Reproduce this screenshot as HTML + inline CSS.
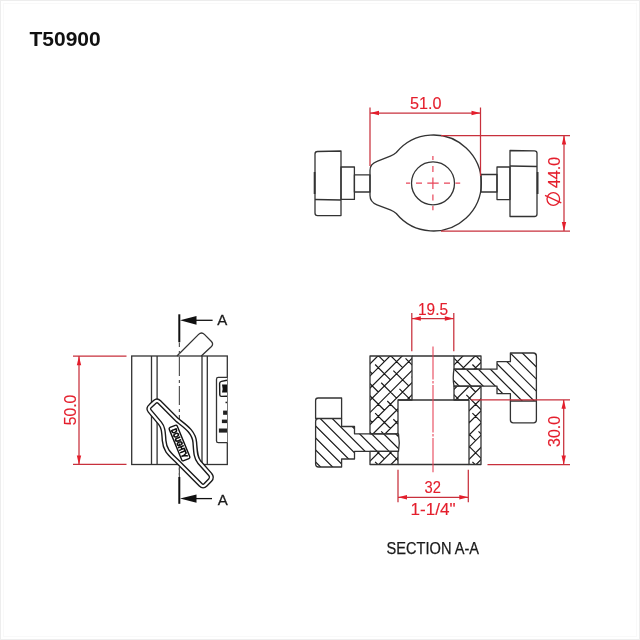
<!DOCTYPE html>
<html><head><meta charset="utf-8">
<style>
html,body{margin:0;padding:0;background:#fff;width:640px;height:640px;overflow:hidden}
svg{position:absolute;left:0;top:0;will-change:transform}
text{font-family:"Liberation Sans",sans-serif}
</style></head><body>
<svg width="640" height="640" viewBox="0 0 640 640">


<!-- frame -->
<rect x="0.5" y="0.5" width="639" height="639" fill="none" stroke="#ededed" stroke-width="1"/>
<rect x="3.5" y="3.5" width="633" height="633" fill="none" stroke="#f9f9f9" stroke-width="1"/>

<!-- title -->
<text x="29.5" y="46" font-size="21" font-weight="bold" fill="#111">T50900</text>

<!-- ============ TOP VIEW ============ -->
<g fill="none" stroke="#333" stroke-width="1.3" stroke-linejoin="round">
  <!-- body -->
  <path d="M396.3 152.5 A48 48 0 1 1 396.3 213.5 Q393.8 211.3 390.3 209.9 L377 204.8 Q370 202 370 195.5 L370 170.5 Q370 164 377 161.4 L390.3 156.1 Q393.8 154.7 396.3 152.5 Z"/>
  <circle cx="433" cy="183.3" r="21.5"/>
  <!-- left knob -->
  <path d="M341 151 L317.5 151.5 Q315 151.5 315 154 L315 213 Q315 215.6 317.5 215.6 L341 215.6 Z"/>
  <path d="M315 199.5 L341 200"/>
  <path d="M314.6 172 V194" stroke-width="1.8"/>
  <rect x="341" y="167" width="13.4" height="32.4"/>
  <rect x="354.4" y="174.8" width="15.6" height="17.2"/>
  <!-- right knob -->
  <path d="M510 150.5 L534.5 150.8 Q537 150.8 537 153.3 L537 214 Q537 216.5 534.5 216.5 L510 216.5 Z"/>
  <path d="M510 166 L537 166.5"/>
  <path d="M537.6 172 V194" stroke-width="1.8"/>
  <rect x="497" y="167" width="13" height="32.6"/>
  <rect x="481" y="174.5" width="16" height="17.5"/>
</g>
<!-- top view center marks -->
<g stroke="#e8465a" stroke-width="1.2">
  <path d="M406 183.2H410M416 183.2H422M427.3 183.2H438.7M444 183.2H450M455.5 183.2H460.2"/>
  <path d="M432.9 156V160M432.9 166V172M432.9 177.5V189M432.9 194.5V200.5M432.9 206V210.2"/>
</g>
<!-- dims top -->
<g stroke="#c8303c" stroke-width="1.25" fill="none">
  <path d="M370 107.5V166"/>
  <path d="M480.5 107.5V176"/>
  <path d="M370 113H480.5"/>
  <path d="M441 135.5H570"/>
  <path d="M441 231H570"/>
  <path d="M564 135.5V231"/>
</g>
<g fill="#e41e2c">
  <path d="M370 113L379 110.8L379 115.2Z"/>
  <path d="M480.5 113L471.5 110.8L471.5 115.2Z"/>
  <path d="M564 135.5L561.8 144.5L566.2 144.5Z"/>
  <path d="M564 231L561.8 222L566.2 222Z"/>
</g>
<text x="425.75" y="108.8" font-size="16.3" fill="#e41e2c" stroke="#e41e2c" stroke-width="0.15" text-anchor="middle" textLength="31.5" lengthAdjust="spacingAndGlyphs">51.0</text>
<g transform="translate(559.5 172.5) rotate(-90)">
  <text x="0" y="0" font-size="16" fill="#e41e2c" stroke="#e41e2c" stroke-width="0.15" text-anchor="middle">44.0</text>
</g>
<g stroke="#e41e2c" stroke-width="1.3" fill="none">
  <circle cx="553.3" cy="199" r="6.3"/>
  <path d="M545 195.3L561.3 202.8"/>
</g>


<!-- ============ SIDE VIEW ============ -->
<g fill="none" stroke="#333" stroke-width="1.3">
  <rect x="131.7" y="356" width="95.6" height="108.5"/>
  <path d="M151.5 356V464.5M157.1 356V464.5M202 356V464.5M207.3 356V464.5"/>
  <!-- top lever -->
  <path d="M177 356 L198.6 334.4 Q201.5 331.5 204.4 334.4 L211.2 341.2 Q214 344 211.2 346.8 L201.3 356"/>
  <!-- window -->
  <path d="M227.3 377.4 H218.3 Q216.5 377.4 216.5 379.2 V441 Q216.5 442.7 218.3 442.7 H227.3" fill="#fff"/>
  <path d="M227 380.3 L221.5 381.4 Q219.6 381.8 219.6 383.5 L219.8 395 Q219.9 396.5 221.6 396.4 L227 396.2" stroke-width="1.4" stroke="#1a1a1a"/>
</g>
<g fill="#222">
  <path d="M222 384.5H227V392.5H222Q223.2 388.5 222 384.5Z" fill="#111"/>
  <rect x="225.5" y="401.7" width="1.5" height="1.5"/>
  <rect x="223.1" y="410.6" width="3.9" height="4.2"/>
  <rect x="221.9" y="419.6" width="5.1" height="3.5"/>
  <rect x="218.9" y="428.5" width="8.1" height="4.1"/>
</g>
<!-- centerline side -->
<path d="M179.4 342.5V475" stroke="#555" stroke-width="1.2" stroke-dasharray="19 4 3 3" stroke-dashoffset="14.5" fill="none"/>
<!-- lower lever (double outline) -->
<g fill="none" stroke-linejoin="round">
  <path id="lev" d="M150.5 405.9 L154.8 401.9 Q157.1 399.8 159.3 402 L177.5 420.2 C185.5 426.5 194 432 194.8 442.5 C195.5 452 195.5 457.5 199.2 462 L210.3 474.6 Q212.6 477.4 210.2 480 L205.6 484.8 Q203.1 487.4 200.6 484.8 L178.2 462.2 C170.5 454.5 165 451.5 164.1 440.5 C163.5 430.5 163 427 160 423.3 L149.7 411 Q147.5 408.3 150.5 405.9 Z" stroke="#1a1a1a" stroke-width="5.0" fill="#fff"/>
  <path d="M150.5 405.9 L154.8 401.9 Q157.1 399.8 159.3 402 L177.5 420.2 C185.5 426.5 194 432 194.8 442.5 C195.5 452 195.5 457.5 199.2 462 L210.3 474.6 Q212.6 477.4 210.2 480 L205.6 484.8 Q203.1 487.4 200.6 484.8 L178.2 462.2 C170.5 454.5 165 451.5 164.1 440.5 C163.5 430.5 163 427 160 423.3 L149.7 411 Q147.5 408.3 150.5 405.9 Z" stroke="#fff" stroke-width="2.2"/>
</g>
<g transform="translate(179.5 443) rotate(67.7)">
  <rect x="-18" y="-4.3" width="36" height="8.6" rx="1.5" fill="#fff" stroke="#111" stroke-width="1.4"/>
  <text x="0" y="2.9" font-size="8" font-weight="bold" fill="#000" stroke="#000" stroke-width="0.7" text-anchor="middle" textLength="30.5" lengthAdjust="spacingAndGlyphs">DOUGHTY</text>
</g>
<!-- section markers -->
<g stroke="#111" fill="none">
  <path d="M179.3 314.3V342.2" stroke-width="2"/>
  <path d="M196 320.3H212.6" stroke-width="1.3"/>
  <path d="M179.3 477V503.8" stroke-width="2"/>
  <path d="M196 498.6H212" stroke-width="1.3"/>
</g>
<g fill="#111">
  <path d="M180 320.3L196.5 316L196.5 324.7Z"/>
  <path d="M180 498.6L196.5 494.4L196.5 502.8Z"/>
</g>
<text x="217.3" y="325.3" font-size="15" fill="#1a1a1a" stroke="#1a1a1a" stroke-width="0.3">A</text>
<text x="217.8" y="504.9" font-size="15" fill="#1a1a1a" stroke="#1a1a1a" stroke-width="0.3">A</text>
<path d="M179.4 468V477" stroke="#555" stroke-width="1.2"/>
<!-- 50.0 dim -->
<g stroke="#c8303c" stroke-width="1.25" fill="none">
  <path d="M73 356.2H126.5M73 464.4H126.5M79 356.2V464.4"/>
</g>
<g fill="#e41e2c">
  <path d="M79 356.2L76.8 365.2L81.2 365.2Z"/>
  <path d="M79 464.4L76.8 455.4L81.2 455.4Z"/>
</g>
<g transform="translate(75.5 409.95) rotate(-90)">
  <text x="0" y="0" font-size="16.5" fill="#e41e2c" stroke="#e41e2c" stroke-width="0.15" text-anchor="middle" textLength="30.5" lengthAdjust="spacingAndGlyphs">50.0</text>
</g>

<!-- ============ SECTION VIEW ============ -->
<clipPath id="cxh"><path d="M370 356H412V400H398V433.8H370Z M370 451.3H398V464.5H370Z M454 356H481V369.2H454Z M454 386.2H481V464.5H469V400H454Z"/></clipPath>
<clipPath id="csh1"><path d="M315.6 418.5H341.6V426.5H354.5V433.8H398.5Q400 442.5 398.5 451.3H354.5V459H341.6V467H318.6Q315.6 467 315.6 464V421.5Q315.6 418.5 318.6 418.5Z"/></clipPath>
<clipPath id="csh2"><path d="M454 369.2H497V361.7H510.4V353H533.4Q536.4 353 536.4 356V401H510.4V393.7H497V386.2H454Q452.5 377.7 454 369.2Z"/></clipPath>
<g fill="none" stroke="#1a1a1a" stroke-width="1.2">
<path clip-path="url(#cxh)" d="M300.45 409.06L424.19 285.32M306.53 415.14L430.27 291.40M312.61 421.22L436.36 297.48M318.69 427.30L442.44 303.56M324.77 433.39L448.52 309.64M330.86 439.47L454.60 315.72M336.94 445.55L460.68 321.80M343.02 451.63L466.76 327.89M349.10 457.71L472.84 333.97M355.18 463.79L478.92 340.05M361.26 469.87L485.00 346.13M367.34 475.95L491.09 352.21M373.42 482.03L497.17 358.29M379.50 488.12L503.25 364.37M385.59 494.20L509.33 370.45M391.67 500.28L515.41 376.53M397.75 506.36L521.49 382.62M403.83 512.44L527.57 388.70M409.91 518.52L533.65 394.78M415.99 524.60L539.73 400.86M422.07 530.68L545.82 406.94M428.15 536.76L551.90 413.02M434.23 542.85L557.98 419.10M253.50 388.84L268.84 404.18M271.74 394.92L287.09 410.26M277.82 413.16L293.17 428.51M296.07 419.24L311.41 434.59M302.15 437.49L317.49 452.83M320.39 443.57L335.73 458.91M326.47 461.81L341.82 477.16M344.71 467.89L360.06 483.24M350.80 486.14L366.14 501.48M369.04 492.22L384.38 507.56M375.12 510.46L390.46 525.80M393.36 516.54L408.71 531.89M399.44 534.78L414.79 550.13M417.69 540.87L433.03 556.21M423.77 559.11L439.11 574.45M442.01 565.19L457.36 580.53M448.09 583.43L463.44 598.78M466.34 589.51L481.68 604.86M265.66 376.68L281.00 392.02M283.90 382.76L299.25 398.10M289.98 401.00L305.33 416.34M308.23 407.08L323.57 422.43M314.31 425.32L329.65 440.67M332.55 431.41L347.90 446.75M338.63 449.65L353.98 464.99M356.88 455.73L372.22 471.07M362.96 473.97L378.30 489.32M381.20 480.05L396.55 495.40M387.28 498.30L402.63 513.64M405.53 504.38L420.87 519.72M411.61 522.62L426.95 537.97M429.85 528.70L445.19 544.05M435.93 546.95L451.28 562.29M454.17 553.03L469.52 568.37M460.26 571.27L475.60 586.62M478.50 577.35L493.84 592.70M277.82 364.51L293.17 379.86M296.07 370.59L311.41 385.94M302.15 388.84L317.49 404.18M320.39 394.92L335.73 410.26M326.47 413.16L341.82 428.51M344.71 419.24L360.06 434.59M350.80 437.49L366.14 452.83M369.04 443.57L384.38 458.91M375.12 461.81L390.46 477.16M393.36 467.89L408.71 483.24M399.44 486.14L414.79 501.48M417.69 492.22L433.03 507.56M423.77 510.46L439.11 525.80M442.01 516.54L457.36 531.89M448.09 534.78L463.44 550.13M466.34 540.87L481.68 556.21M472.42 559.11L487.76 574.45M490.66 565.19L506.01 580.53M289.98 352.35L305.33 367.70M308.23 358.43L323.57 373.78M314.31 376.68L329.65 392.02M332.55 382.76L347.90 398.10M338.63 401.00L353.98 416.34M356.88 407.08L372.22 422.43M362.96 425.32L378.30 440.67M381.20 431.41L396.55 446.75M387.28 449.65L402.63 464.99M405.53 455.73L420.87 471.07M411.61 473.97L426.95 489.32M429.85 480.05L445.19 495.40M435.93 498.30L451.28 513.64M454.17 504.38L469.52 519.72M460.26 522.62L475.60 537.97M478.50 528.70L493.84 544.05M484.58 546.95L499.92 562.29M502.82 553.03L518.17 568.37M302.15 340.19L317.49 355.53M320.39 346.27L335.73 361.61M326.47 364.51L341.82 379.86M344.71 370.59L360.06 385.94M350.80 388.84L366.14 404.18M369.04 394.92L384.38 410.26M375.12 413.16L390.46 428.51M393.36 419.24L408.71 434.59M399.44 437.49L414.79 452.83M417.69 443.57L433.03 458.91M423.77 461.81L439.11 477.16M442.01 467.89L457.36 483.24M448.09 486.14L463.44 501.48M466.34 492.22L481.68 507.56M472.42 510.46L487.76 525.80M490.66 516.54L506.01 531.89M496.74 534.78L512.09 550.13M514.99 540.87L530.33 556.21M314.31 328.03L329.65 343.37M332.55 334.11L347.90 349.45M338.63 352.35L353.98 367.70M356.88 358.43L372.22 373.78M362.96 376.68L378.30 392.02M381.20 382.76L396.55 398.10M387.28 401.00L402.63 416.34M405.53 407.08L420.87 422.43M411.61 425.32L426.95 440.67M429.85 431.41L445.19 446.75M435.93 449.65L451.28 464.99M454.17 455.73L469.52 471.07M460.26 473.97L475.60 489.32M478.50 480.05L493.84 495.40M484.58 498.30L499.92 513.64M502.82 504.38L518.17 519.72M508.90 522.62L524.25 537.97M527.15 528.70L542.49 544.05M326.47 315.86L341.82 331.21M344.71 321.95L360.06 337.29M350.80 340.19L366.14 355.53M369.04 346.27L384.38 361.61M375.12 364.51L390.46 379.86M393.36 370.59L408.71 385.94M399.44 388.84L414.79 404.18M417.69 394.92L433.03 410.26M423.77 413.16L439.11 428.51M442.01 419.24L457.36 434.59M448.09 437.49L463.44 452.83M466.34 443.57L481.68 458.91M472.42 461.81L487.76 477.16M490.66 467.89L506.01 483.24M496.74 486.14L512.09 501.48M514.99 492.22L530.33 507.56M521.07 510.46L536.41 525.80M539.31 516.54L554.65 531.89M338.63 303.70L353.98 319.05M356.88 309.78L372.22 325.13M362.96 328.03L378.30 343.37M381.20 334.11L396.55 349.45M387.28 352.35L402.63 367.70M405.53 358.43L420.87 373.78M411.61 376.68L426.95 392.02M429.85 382.76L445.19 398.10M435.93 401.00L451.28 416.34M454.17 407.08L469.52 422.43M460.26 425.32L475.60 440.67M478.50 431.41L493.84 446.75M484.58 449.65L499.92 464.99M502.82 455.73L518.17 471.07M508.90 473.97L524.25 489.32M527.15 480.05L542.49 495.40M533.23 498.30L548.57 513.64M551.47 504.38L566.82 519.72M350.80 291.54L366.14 306.88M369.04 297.62L384.38 312.97M375.12 315.86L390.46 331.21M393.36 321.95L408.71 337.29M399.44 340.19L414.79 355.53M417.69 346.27L433.03 361.61M423.77 364.51L439.11 379.86M442.01 370.59L457.36 385.94M448.09 388.84L463.44 404.18M466.34 394.92L481.68 410.26M472.42 413.16L487.76 428.51M490.66 419.24L506.01 434.59M496.74 437.49L512.09 452.83M514.99 443.57L530.33 458.91M521.07 461.81L536.41 477.16M539.31 467.89L554.65 483.24M545.39 486.14L560.74 501.48M563.63 492.22L578.98 507.56M362.96 279.38L378.30 294.72M381.20 285.46L396.55 300.80M387.28 303.70L402.63 319.05M405.53 309.78L420.87 325.13M411.61 328.03L426.95 343.37M429.85 334.11L445.19 349.45M435.93 352.35L451.28 367.70M454.17 358.43L469.52 373.78M460.26 376.68L475.60 392.02M478.50 382.76L493.84 398.10M484.58 401.00L499.92 416.34M502.82 407.08L518.17 422.43M508.90 425.32L524.25 440.67M527.15 431.41L542.49 446.75M533.23 449.65L548.57 464.99M551.47 455.73L566.82 471.07M557.55 473.97L572.90 489.32M575.80 480.05L591.14 495.40M375.12 267.22L390.46 282.56M393.36 273.30L408.71 288.64M399.44 291.54L414.79 306.88M417.69 297.62L433.03 312.97M423.77 315.86L439.11 331.21M442.01 321.95L457.36 337.29M448.09 340.19L463.44 355.53M466.34 346.27L481.68 361.61M472.42 364.51L487.76 379.86M490.66 370.59L506.01 385.94M496.74 388.84L512.09 404.18M514.99 394.92L530.33 410.26M521.07 413.16L536.41 428.51M539.31 419.24L554.65 434.59M545.39 437.49L560.74 452.83M563.63 443.57L578.98 458.91M569.72 461.81L585.06 477.16M587.96 467.89L603.30 483.24M387.28 255.05L402.63 270.40M405.53 261.13L420.87 276.48M411.61 279.38L426.95 294.72M429.85 285.46L445.19 300.80M435.93 303.70L451.28 319.05M454.17 309.78L469.52 325.13M460.26 328.03L475.60 343.37M478.50 334.11L493.84 349.45M484.58 352.35L499.92 367.70M502.82 358.43L518.17 373.78M508.90 376.68L524.25 392.02M527.15 382.76L542.49 398.10M533.23 401.00L548.57 416.34M551.47 407.08L566.82 422.43M557.55 425.32L572.90 440.67M575.80 431.41L591.14 446.75M581.88 449.65L597.22 464.99M600.12 455.73L615.47 471.07M399.44 242.89L414.79 258.24M417.69 248.97L433.03 264.32M423.77 267.22L439.11 282.56M442.01 273.30L457.36 288.64M448.09 291.54L463.44 306.88M466.34 297.62L481.68 312.97M472.42 315.86L487.76 331.21M490.66 321.95L506.01 337.29M496.74 340.19L512.09 355.53M514.99 346.27L530.33 361.61M521.07 364.51L536.41 379.86M539.31 370.59L554.65 385.94M545.39 388.84L560.74 404.18M563.63 394.92L578.98 410.26M569.72 413.16L585.06 428.51M587.96 419.24L603.30 434.59M594.04 437.49L609.38 452.83M612.28 443.57L627.63 458.91M411.61 230.73L426.95 246.07M429.85 236.81L445.19 252.15M435.93 255.05L451.28 270.40M454.17 261.13L469.52 276.48M460.26 279.38L475.60 294.72M478.50 285.46L493.84 300.80M484.58 303.70L499.92 319.05M502.82 309.78L518.17 325.13M508.90 328.03L524.25 343.37M527.15 334.11L542.49 349.45M533.23 352.35L548.57 367.70M551.47 358.43L566.82 373.78M557.55 376.68L572.90 392.02M575.80 382.76L591.14 398.10M581.88 401.00L597.22 416.34M600.12 407.08L615.47 422.43M606.20 425.32L621.55 440.67M624.45 431.41L639.79 446.75"/>
<path clip-path="url(#csh1)" d="M267.75 450.18L349.82 532.25M273.76 444.17L355.83 526.24M279.77 438.16L361.84 520.23M285.78 432.15L367.85 514.22M291.79 426.14L373.86 508.21M297.80 420.13L379.87 502.20M303.81 414.12L385.88 496.19M309.82 408.11L391.89 490.18M315.83 402.10L397.90 484.17M321.84 396.09L403.91 478.16M327.85 390.08L409.92 472.15M333.86 384.07L415.93 466.14M339.87 378.06L421.94 460.13M345.88 372.05L427.95 454.12M351.89 366.04L433.96 448.11M357.90 360.03L439.97 442.10M363.91 354.01L445.99 436.09"/>
<path clip-path="url(#csh2)" d="M408.98 383.95L488.55 463.52M414.99 377.94L494.56 457.51M421.00 371.93L500.57 451.50M427.01 365.92L506.58 445.49M433.02 359.91L512.59 439.48M439.03 353.90L518.60 433.47M445.04 347.89L524.61 427.46M451.05 341.88L530.62 421.45M457.06 335.87L536.63 415.44M463.07 329.86L542.64 409.43M469.08 323.84L548.66 403.42M475.09 317.83L554.67 397.41M481.11 311.82L560.68 391.39M487.12 305.81L566.69 385.38M493.13 299.80L572.70 379.37M499.14 293.79L578.71 373.36"/>
</g>
<g fill="none" stroke="#333" stroke-width="1.3" stroke-linejoin="round">
  <!-- body outline -->
  <path d="M370 356H412V400H398V433.8H370Z"/>
  <path d="M370 451.3H398V464.5H370Z"/>
  <path d="M454 356H481V369.2H454Z"/>
  <path d="M454 386.2H481V464.5H469V400H454Z"/>
  <path d="M412 356H454M398 400H469M398 464.5H469"/>
  <!-- left knob -->
  <path d="M315.6 418.5V400.5Q315.6 398 318.1 398H341.6V418.5"/>
  <path d="M315.6 418.5H341.6V426.5H354.5V433.8H398.5Q400 442.5 398.5 451.3H354.5V459H341.6V467H318.6Q315.6 467 315.6 464V421.5Q315.6 418.5 318.6 418.5Z"/>
  <!-- right knob -->
  <path d="M510.4 401V420Q510.4 422.8 513.2 422.8H533.6Q536.4 422.8 536.4 420V401"/>
  <path d="M454 369.2H497V361.7H510.4V353H533.4Q536.4 353 536.4 356V401H510.4V393.7H497V386.2H454Q452.5 377.7 454 369.2Z"/>
</g>
<!-- section centerline -->
<path d="M433 346.6V472.2" stroke="#e8465a" stroke-width="1.1" stroke-dasharray="47.3 1.6 2.4 1.6" stroke-dashoffset="14.4" fill="none"/>
<!-- dims section -->
<g stroke="#c8303c" stroke-width="1.25" fill="none">
  <path d="M411.8 313V351.3M453.8 313V351.3M411.8 318.5H453.8"/>
  <path d="M398 469.8V502.2M468.3 469.8V502.2M398 497.3H468.3"/>
  <path d="M471 399.8H570M487.5 464.5H570M563.7 399.8V464.5"/>
</g>
<g fill="#e41e2c">
  <path d="M411.8 318.5L420.8 316.3L420.8 320.7Z"/>
  <path d="M453.8 318.5L444.8 316.3L444.8 320.7Z"/>
  <path d="M398 497.3L407 495.1L407 499.5Z"/>
  <path d="M468.3 497.3L459.3 495.1L459.3 499.5Z"/>
  <path d="M563.7 399.8L561.5 408.8L565.9 408.8Z"/>
  <path d="M563.7 464.5L561.5 455.5L565.9 455.5Z"/>
</g>
<text x="433.05" y="314.8" font-size="16.3" fill="#e41e2c" stroke="#e41e2c" stroke-width="0.15" text-anchor="middle" textLength="30.1" lengthAdjust="spacingAndGlyphs">19.5</text>
<text x="432.8" y="492.6" font-size="16.3" fill="#e41e2c" stroke="#e41e2c" stroke-width="0.15" text-anchor="middle" textLength="16.4" lengthAdjust="spacingAndGlyphs">32</text>
<text x="433.1" y="515" font-size="16.3" fill="#e41e2c" stroke="#e41e2c" stroke-width="0.15" text-anchor="middle" textLength="45" lengthAdjust="spacingAndGlyphs">1-1/4"</text>
<g transform="translate(560.4 431.45) rotate(-90)">
  <text x="0" y="0" font-size="16.5" fill="#e41e2c" stroke="#e41e2c" stroke-width="0.15" text-anchor="middle" textLength="30.9" lengthAdjust="spacingAndGlyphs">30.0</text>
</g>
<text x="386.6" y="553.8" font-size="15.6" fill="#1a1a1a" stroke="#1a1a1a" stroke-width="0.25" textLength="92.4" lengthAdjust="spacingAndGlyphs">SECTION A-A</text>
</svg>
</body></html>
